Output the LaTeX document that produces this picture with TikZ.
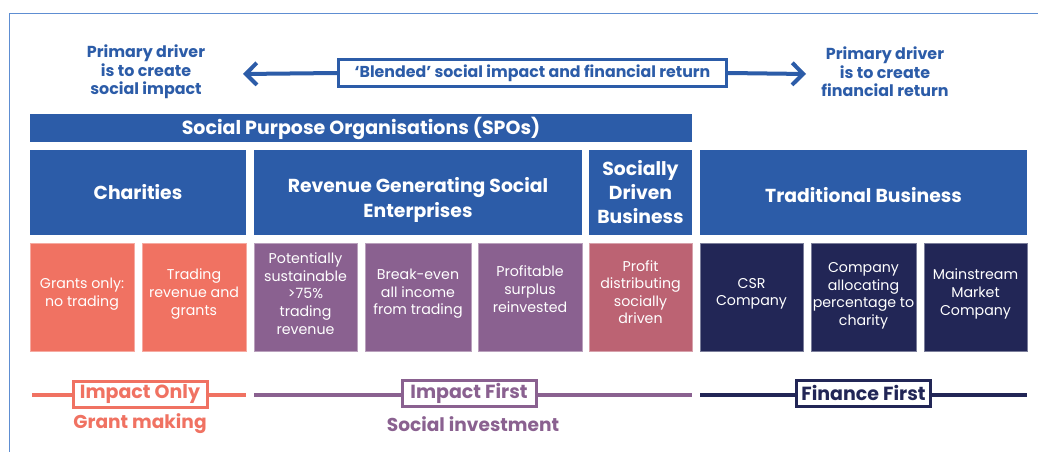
\documentclass[tikz,border=0pt]{standalone}
\usepackage{fontspec}
\setmainfont{Poppins}
\usetikzlibrary{arrows.meta}

\definecolor{spoblue}{HTML}{2C5CA8}
\definecolor{framblue}{HTML}{5E8ED2}
\definecolor{coral}{HTML}{F07262}
\definecolor{plum}{HTML}{8A6190}
\definecolor{rose}{HTML}{BC6373}
\definecolor{navy}{HTML}{222656}

\begin{document}
\begin{tikzpicture}[x=1pt, y=-1pt,
		head/.style={fill=spoblue, text=white, font=\bfseries\fontsize{18.8}{24}\selectfont, align=center, inner sep=0pt, minimum height=85pt},
		cell/.style={fill=#1, draw=#1!60!white, line width=.6pt, text=white, font=\fontsize{14.2}{17.6}\selectfont, align=center, inner sep=0pt, minimum height=108pt, text depth=10pt},
		band/.style={fill=white, draw=#1, line width=3pt, text=#1, font=\bfseries\fontsize{19}{21}\selectfont, inner sep=0pt, minimum width=134pt, minimum height=26pt},
		driver/.style={text=spoblue, font=\bfseries\fontsize{15.9}{18.5}\selectfont, align=center},
		tip/.style={line width=4pt, spoblue, -{Straight Barb[length=11pt, width=22pt, line width=4pt]}}]
	\useasboundingbox (0,0) rectangle (1038,452);
	\draw[framblue, line width=1pt] (9,460) -- (9,14) -- (1045,14);

	\node[driver] (socdrv) at (146,72) {Primary driver\\is to create\\social impact};
	\node[driver] (findrv) at (885,72) {Primary driver\\is to create\\financial return};
	\coordinate (ltip) at (243,74);
	\coordinate (rtip) at (806,74);
	\node[fill=white, draw=spoblue, line width=3pt, text=spoblue, font=\bfseries\fontsize{15.8}{18}\selectfont, minimum width=388pt, minimum height=26pt, inner sep=0pt] (blend) at (532.5,73) {`Blended' social impact and financial return};
	\draw[tip] (blend.west) -- (ltip);
	\draw[tip] (blend.east) -- (rtip);

	\node[fill=spoblue, text=white, font=\bfseries\fontsize{19}{22}\selectfont, minimum width=662pt, minimum height=28pt, inner sep=0pt] (spo) at (361,128) {Social Purpose Organisations (SPOs)};

	\node[head, minimum width=216pt] (charity) at (138,192.5) {Charities};
	\node[head, minimum width=328pt, font=\bfseries\fontsize{18.8}{25}\selectfont, text height=54pt] (rgse) at (418,192.5) {Revenue Generating Social\\Enterprises};
	\node[head, minimum width=103pt] (sdb) at (640.5,192.5) {Socially\\Driven\\Business};
	\node[head, minimum width=327pt, text height=20pt] (trad) at (863.5,192.5) {Traditional Business};

	\node[cell=coral, minimum width=104pt] (grants) at (82,297) {Grants only:\\no trading};
	\node[cell=coral, minimum width=104pt] (trading) at (194,297) {Trading\\revenue and\\grants};
	\node[cell=plum, minimum width=103pt, text depth=7pt] (potent) at (305.5,297) {Potentially\\sustainable\\>75\%\\trading\\revenue};
	\node[cell=plum, minimum width=106pt] (breakeven) at (418,297) {Break-even\\all income\\from trading};
	\node[cell=plum, minimum width=104pt, text depth=16pt] (profitable) at (530,297) {Profitable\\surplus\\reinvested};
	\node[cell=rose, minimum width=103pt] (profdist) at (640.5,297) {Profit\\distributing\\socially\\driven};
	\node[cell=navy, minimum width=103pt] (csr) at (751.5,297) {CSR\\Company};
	\node[cell=navy, minimum width=105pt, text depth=6pt] (alloc) at (863.5,297) {Company\\allocating\\percentage to\\charity};
	\node[cell=navy, minimum width=103pt] (mainstr) at (975.5,297) {Mainstream\\Market\\Company};

	\coordinate (ionl) at (32,395);
	\coordinate (ionr) at (246,395);
	\coordinate (ifrl) at (254,395);
	\coordinate (ifrr) at (692,395);
	\coordinate (ffil) at (700,395);
	\coordinate (ffir) at (1027,395);
	\draw[coral, line width=4pt] (ionl) -- (ionr);
	\draw[plum, line width=4pt] (ifrl) -- (ifrr);
	\draw[navy, line width=4pt] (ffil) -- (ffir);
	\node[band=coral] (imponly) at (140,394) {Impact Only};
	\node[band=plum] (impfirst) at (469,393) {Impact First};
	\node[band=navy] (finfirst) at (863.5,393) {Finance First};
	\node[text=coral, font=\bfseries\fontsize{18.6}{20}\selectfont] (grantmk) at (140,424) {Grant making};
	\node[text=plum, font=\bfseries\fontsize{18.6}{20}\selectfont] (socinv) at (473,424) {Social investment};
\end{tikzpicture}
\end{document}
